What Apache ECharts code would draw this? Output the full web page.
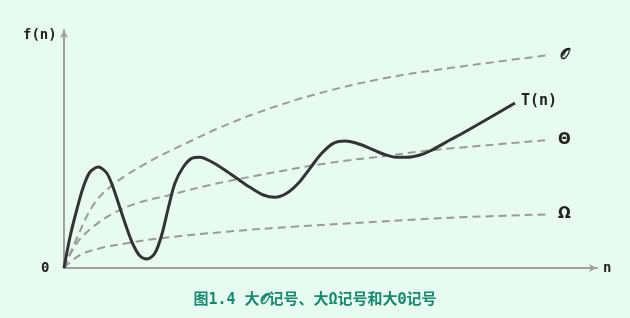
<!DOCTYPE html>
<html><head><meta charset="utf-8">
<script src="https://cdn.jsdelivr.net/npm/echarts@6/dist/echarts.min.js"></script>
<style>html,body{margin:0;padding:0;background:#e8fbf1;}#c{width:630px;height:318px;}</style>
</head><body><div id="c"></div>
<script>
// values in chart units (x: 0..533, y: 0..238)
const tData = [[0,0],[6,31],[12.7,58],[19.3,81],[26,96],[34.3,101],[42.7,95],[49.3,80],[56,60],[62.7,40],[69.3,23],[76,12],[83.3,9],[91,15],[97.7,33],[104.3,60],[111,85],[119.3,101],[127.7,109.7],[136,110.7],[146,107],[159.3,99],[172.7,89.7],[186,80.7],[199.3,73],[211,70.7],[222.7,74.7],[234.3,84.7],[246,99.7],[257.7,114.7],[269.3,124.7],[281,127],[292.7,124.7],[306,119.7],[319.3,114],[332.7,110.7],[342.7,110.7],[356,113],[366,117],[386,128],[399,135],[420,147],[451,165]];
const oData = [[0,0],[12,28],[29.3,63],[46,81],[62.7,93],[82.7,105],[106,117],[129,128],[152.7,139],[192.7,155],[252.7,174],[319.3,189.5],[386,200],[486,213]];
const thetaData = [[0,0],[12.7,24.7],[29.3,41.3],[49.3,54.7],[72.7,64.7],[106,73],[146,83],[196,93],[262.7,104.7],[329.3,113],[356,116.5],[386,119.5],[484,128]];
const omegaData = [[0,0],[16,13],[36,19.7],[62.7,24.7],[96,29.7],[162.7,36.3],[229.3,41.3],[296,45.3],[356,48.7],[386,50.3],[484,53.7]];
const seriesNames = ['T(n)', '𝒪', 'Θ', 'Ω'];
const axisNames = ['n', 'f(n)', '0'];
const caption = '图1.4 大𝒪记号、大Ω记号和大Θ记号';

const mono = "'DejaVu Sans Mono', monospace";
const sans = "'DejaVu Sans', sans-serif";
const dashStyle = {color:'#9a9a9a', width:2, type:[8,5]};
function dashSeries(name, data){
  return {type:'line', name, data, smooth:0.4, symbol:'none', lineStyle:dashStyle, z:2,
    endLabel:{show:true, formatter:name, color:'#222', fontFamily:sans, fontWeight:'bold', fontSize:15, distance:10}};
}
const chart = echarts.init(document.getElementById('c'));
chart.setOption({
  backgroundColor:'#e8fbf1',
  animation:false,
  grid:{left:64, right:33, top:30, bottom:50},
  xAxis:{type:'value', min:0, max:533, splitLine:{show:false}, axisTick:{show:false}, axisLabel:{show:false},
    axisLine:{show:true, symbol:['none','arrow'], symbolSize:[6,8], lineStyle:{color:'#a0a0a0', width:2}},
    name:axisNames[0], nameGap:6, nameTextStyle:{color:'#222', fontFamily:mono, fontWeight:'bold', fontSize:14}},
  yAxis:{type:'value', min:0, max:238, splitLine:{show:false}, axisTick:{show:false}, axisLabel:{show:false},
    axisLine:{show:true, symbol:['none','arrow'], symbolSize:[6,8], lineStyle:{color:'#a0a0a0', width:2}}},
  graphic:[
    {type:'text', left:23, top:28, style:{text:axisNames[1], fill:'#222', font:"bold 14px "+mono}},
    {type:'text', left:41, top:261, style:{text:axisNames[2], fill:'#222', font:"bold 14px "+mono}},
    {type:'text', left:'center', top:293, style:{text:caption, fill:'#168a70', font:"bold 15px 'DejaVu Sans Mono', 'Noto Sans CJK SC', monospace"}}
  ],
  series:[
    dashSeries(seriesNames[1], oData),
    dashSeries(seriesNames[2], thetaData),
    dashSeries(seriesNames[3], omegaData),
    {type:'line', name:seriesNames[0], data:tData, smooth:0.3, symbol:'none', z:3,
      lineStyle:{color:'#333', width:3},
      endLabel:{show:true, formatter:seriesNames[0], color:'#222', fontFamily:mono, fontWeight:'bold', fontSize:15, distance:6, offset:[0,-2]}}
  ]
});
</script></body></html>
